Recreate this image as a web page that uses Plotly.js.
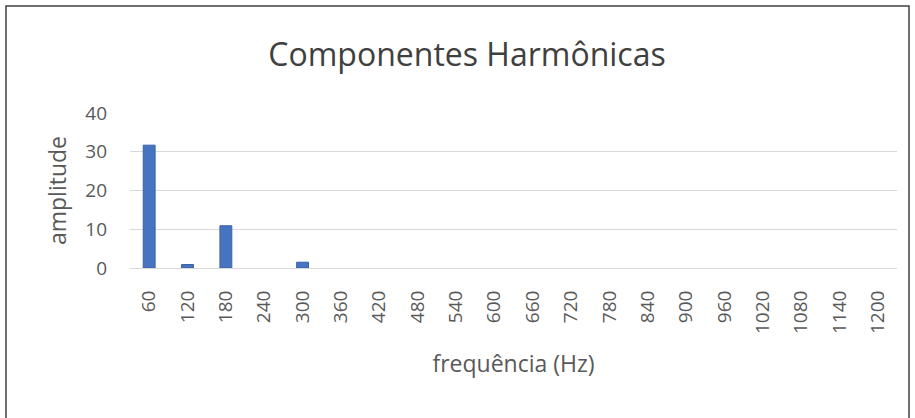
<!DOCTYPE html>
<html><head><meta charset="utf-8">
<script src="https://cdn.plot.ly/plotly-3.0.1.min.js"></script>
<style>html,body{margin:0;padding:0;background:#fff}#c{width:915px;height:418px}</style>
</head><body><div id="c"></div>
<script>
const frequencies = ["60","120","180","240","300","360","420","480","540","600","660","720","780","840","900","960","1020","1080","1140","1200"];
const amplitudes = [31.7, 0.9, 10.9, 0, 1.5, 0, 0, 0, 0, 0, 0, 0, 0, 0, 0, 0, 0, 0, 0, 0];
const yTicks = [0, 10, 20, 30, 40];

const L = 130, R = 18, T = 113, B = 150, W = 915, H = 418;
const pw = W - L - R, ph = H - T - B;
const px = v => (v - L) / pw;
const py = v => (H - B - v) / ph;

Plotly.newPlot('c', [{
  type: 'bar',
  x: frequencies,
  y: amplitudes,
  marker: {color: '#4674C0', line: {color: '#3a62a8', width: amplitudes.map(v => v > 0 ? 1 : 0)}},
  hoverinfo: 'x+y'
}], {
  width: W, height: H,
  margin: {l: L, r: R, t: T, b: B},
  paper_bgcolor: '#fff', plot_bgcolor: '#fff',
  bargap: 0.69,
  font: {family: 'Open Sans, sans-serif', color: '#595959'},
  title: {text: 'Componentes Harmônicas', font: {size: 32, color: '#404040', family: 'Open Sans, sans-serif'},
    x: px(467), xref: 'paper', xanchor: 'center', y: 1 - 55 / H, yanchor: 'middle'},
  xaxis: {type: 'category', tickangle: -90, tickfont: {size: 19, color: '#595959'},
    showgrid: false, showline: true, linecolor: '#d9d9d9', ticks: '', ticklabelstandoff: 14,
    title: {text: 'frequência (Hz)', font: {size: 23, color: '#595959'}, standoff: 22}},
  yaxis: {range: [0, 40], tickvals: yTicks, tickfont: {size: 19, color: '#595959'},
    gridcolor: '#d9d9d9', zeroline: false, showline: false, ticks: '', ticklabelstandoff: 22,
    title: {text: 'amplitude', font: {size: 23, color: '#595959'}, standoff: 12}},
  shapes: [{type: 'rect', xref: 'paper', yref: 'paper',
    x0: px(6), x1: px(909), y0: py(425), y1: py(6),
    line: {color: '#404040', width: 1.5}, fillcolor: 'rgba(0,0,0,0)', layer: 'below'}],
  showlegend: false
}, {displayModeBar: false, staticPlot: true});
</script></body></html>
